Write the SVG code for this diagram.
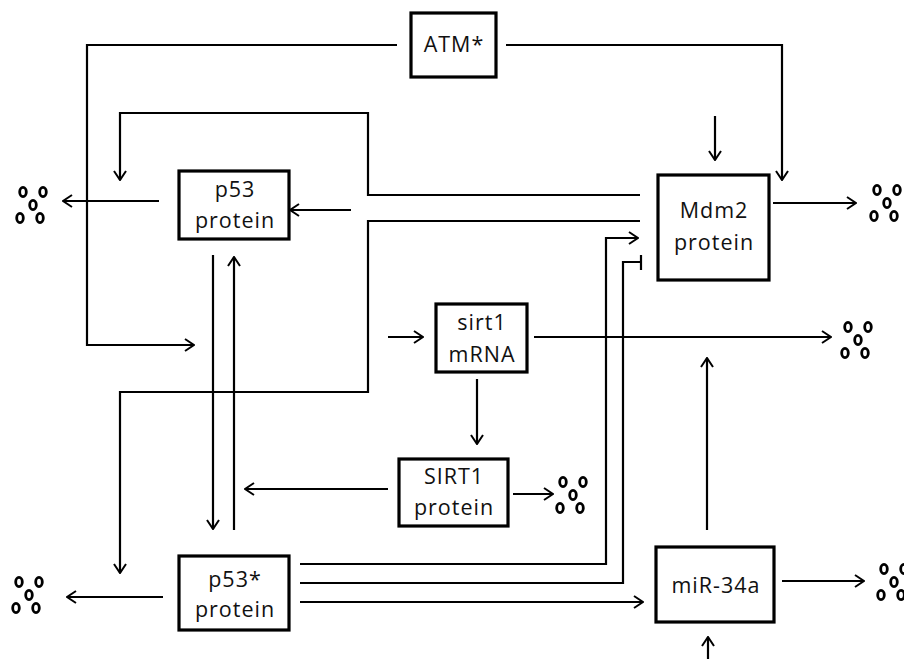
<svg xmlns="http://www.w3.org/2000/svg" xmlns:xlink="http://www.w3.org/1999/xlink" width="904" height="659" viewBox="0 0 904 659">
<style>
.box{fill:#fff;stroke:#000;stroke-width:3.2}
.lbl{font-family:"Open Sans","Noto Sans","Liberation Sans",sans-serif;font-size:21.5px;letter-spacing:1px;text-anchor:middle;fill:#111}
.c{fill:none;stroke:#000;stroke-width:2.2}
.a{marker-end:url(#arr)}
.dot{fill:none;stroke:#000;stroke-width:2.8}
</style>
<defs>
<marker id="arr" viewBox="0 0 11 14" refX="10" refY="7" markerWidth="11" markerHeight="14" markerUnits="userSpaceOnUse" orient="auto">
<path d="M1,1 L10,7 L1,13" fill="none" stroke="#000" stroke-width="2"/>
</marker>
<g id="dots">
<ellipse class="dot" cx="0" cy="0" rx="3.3" ry="4.6"/>
<ellipse class="dot" cx="20" cy="0" rx="3.3" ry="4.6"/>
<ellipse class="dot" cx="10" cy="13" rx="3.3" ry="4.6"/>
<ellipse class="dot" cx="-3" cy="26" rx="3.3" ry="4.6"/>
<ellipse class="dot" cx="17" cy="26" rx="3.3" ry="4.6"/>
</g>
</defs>
<rect width="904" height="659" fill="#fff"/>
<g id="connectors">
<path class="c a" d="M397,45 H87 V345 H194"/>
<path class="c a" d="M506,45 H782 V180"/>
<path class="c a" d="M715,116 V160"/>
<path class="c a" d="M640,195 H368 V113 H120 V180"/>
<path class="c a" d="M351,210 H290"/>
<path class="c a" d="M159,201 H63"/>
<path class="c a" d="M640,221 H368 V392 H120 V573"/>
<path class="c a" d="M213,255 V529"/>
<path class="c a" d="M234,530 V257"/>
<path class="c a" d="M388,489 H245"/>
<path class="c a" d="M388,337 H423"/>
<path class="c a" d="M534,337 H831"/>
<path class="c a" d="M477,379 V444"/>
<path class="c a" d="M513,494 H553"/>
<path class="c a" d="M300,564 H606 V238 H638"/>
<path class="c" d="M300,583 H623 V262 H641 M641,255 V270"/>
<path class="c a" d="M300,602 H643"/>
<path class="c a" d="M163,597 H67"/>
<path class="c a" d="M707,530 V358"/>
<path class="c a" d="M782,581 H864"/>
<path class="c a" d="M708,659 V637"/>
<path class="c a" d="M773,203 H856"/>
</g>
<g id="degradation">
<use xlink:href="#dots" href="#dots" transform="translate(23,192)"/>
<use xlink:href="#dots" href="#dots" transform="translate(19,582)"/>
<use xlink:href="#dots" href="#dots" transform="translate(877,190)"/>
<use xlink:href="#dots" href="#dots" transform="translate(848,327)"/>
<use xlink:href="#dots" href="#dots" transform="translate(563,482)"/>
<use xlink:href="#dots" href="#dots" transform="translate(884,569)"/>
</g>
<g id="atm">
<rect class="box" x="411" y="13" width="85" height="64"/>
<text class="lbl" x="454" y="52">ATM*</text>
</g>
<g id="p53">
<rect class="box" x="179" y="171" width="110" height="68"/>
<text class="lbl" x="235" y="197">p53</text>
<text class="lbl" x="235" y="228">protein</text>
</g>
<g id="mdm2">
<rect class="box" x="658" y="175" width="111" height="105"/>
<text class="lbl" x="714" y="218">Mdm2</text>
<text class="lbl" x="714" y="250">protein</text>
</g>
<g id="sirt1mrna">
<rect class="box" x="436" y="304" width="91" height="68"/>
<text class="lbl" x="482" y="330">sirt1</text>
<text class="lbl" x="482" y="362">mRNA</text>
</g>
<g id="sirt1protein">
<rect class="box" x="399" y="459" width="109" height="67"/>
<text class="lbl" x="454" y="484">SIRT1</text>
<text class="lbl" x="454" y="515">protein</text>
</g>
<g id="p53star">
<rect class="box" x="179" y="556" width="110" height="74"/>
<text class="lbl" x="235" y="587">p53*</text>
<text class="lbl" x="235" y="617">protein</text>
</g>
<g id="mir34a">
<rect class="box" x="656" y="547" width="118" height="75"/>
<text class="lbl" x="716" y="593">miR-34a</text>
</g>
</svg>
